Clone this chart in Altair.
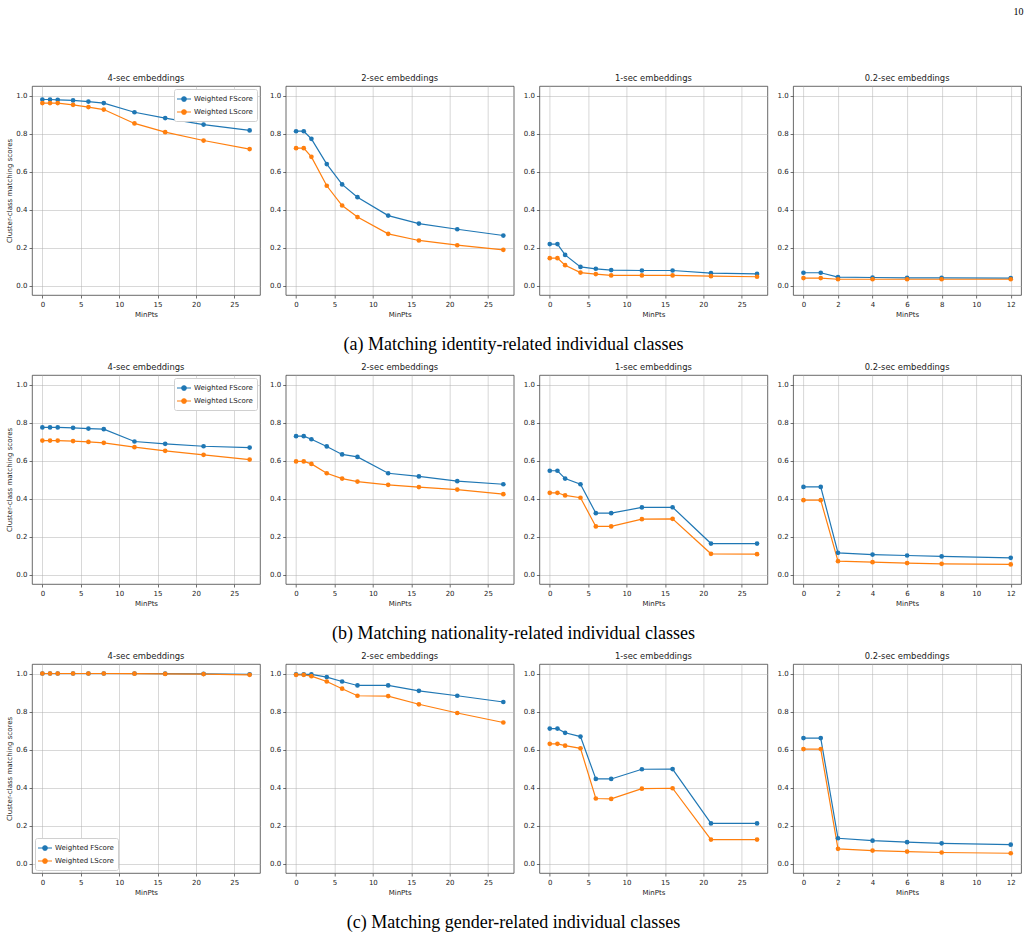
import altair as alt
import pandas as pd

X_LONG = [0, 1, 2, 4, 6, 8, 12, 16, 21, 27]
X_SHORT = [0, 1, 2, 4, 6, 8, 12]
TICKS_LONG = [0, 5, 10, 15, 20, 25]
TICKS_SHORT = [0, 2, 4, 6, 8, 10, 12]
Y_TICKS = [0.0, 0.2, 0.4, 0.6, 0.8, 1.0]
PANEL_TITLES = ["4-sec embeddings", "2-sec embeddings", "1-sec embeddings", "0.2-sec embeddings"]
SERIES = ["Weighted FScore", "Weighted LScore"]
COLORS = ["#1f77b4", "#ff7f0e"]
CAPTIONS = [
    "(a) Matching identity-related individual classes",
    "(b) Matching nationality-related individual classes",
    "(c) Matching gender-related individual classes",
]
PAGE_NUMBER = "10"

# Row (a): identity
A4F = [0.979, 0.979, 0.977, 0.974, 0.968, 0.960, 0.912, 0.881, 0.847, 0.816]
A4L = [0.960, 0.960, 0.960, 0.951, 0.939, 0.926, 0.853, 0.807, 0.763, 0.718]
A2F = [0.812, 0.812, 0.772, 0.639, 0.532, 0.465, 0.368, 0.326, 0.296, 0.263]
A2L = [0.723, 0.723, 0.677, 0.525, 0.421, 0.360, 0.272, 0.237, 0.212, 0.188]
A1F = [0.218, 0.218, 0.161, 0.098, 0.088, 0.081, 0.079, 0.079, 0.065, 0.061]
A1L = [0.144, 0.144, 0.107, 0.068, 0.060, 0.053, 0.053, 0.053, 0.049, 0.046]
A02F = [0.067, 0.067, 0.044, 0.042, 0.040, 0.040, 0.039]
A02L = [0.039, 0.039, 0.033, 0.033, 0.033, 0.033, 0.033]

# Row (b): nationality
B4F = [0.774, 0.774, 0.774, 0.772, 0.768, 0.765, 0.700, 0.688, 0.675, 0.668]
B4L = [0.705, 0.705, 0.705, 0.702, 0.698, 0.693, 0.670, 0.651, 0.630, 0.605]
B2F = [0.728, 0.728, 0.712, 0.674, 0.632, 0.619, 0.533, 0.516, 0.491, 0.475]
B2L = [0.595, 0.595, 0.582, 0.533, 0.505, 0.489, 0.472, 0.460, 0.447, 0.423]
B1F = [0.546, 0.546, 0.505, 0.475, 0.323, 0.323, 0.353, 0.354, 0.163, 0.163]
B1L = [0.430, 0.430, 0.416, 0.404, 0.253, 0.253, 0.291, 0.293, 0.109, 0.107]
B02F = [0.461, 0.461, 0.114, 0.105, 0.100, 0.095, 0.088]
B02L = [0.391, 0.391, 0.070, 0.065, 0.060, 0.056, 0.053]

# Row (c): gender
C4F = [1.000, 1.000, 1.000, 1.000, 1.000, 1.000, 1.000, 0.999, 0.998, 0.996]
C4L = [1.000, 1.000, 1.000, 1.000, 1.000, 1.000, 0.999, 0.998, 0.997, 0.993]
C2F = [0.995, 0.995, 0.995, 0.981, 0.958, 0.937, 0.937, 0.909, 0.883, 0.850]
C2L = [0.993, 0.993, 0.986, 0.958, 0.920, 0.883, 0.881, 0.838, 0.792, 0.742]
C1F = [0.710, 0.710, 0.688, 0.668, 0.445, 0.445, 0.496, 0.497, 0.211, 0.211]
C1L = [0.630, 0.630, 0.620, 0.606, 0.342, 0.340, 0.394, 0.396, 0.126, 0.126]
C02F = [0.660, 0.660, 0.133, 0.120, 0.112, 0.106, 0.099]
C02L = [0.602, 0.602, 0.077, 0.068, 0.063, 0.058, 0.054]

ROWS = [
    [(A4F, A4L), (A2F, A2L), (A1F, A1L), (A02F, A02L)],
    [(B4F, B4L), (B2F, B2L), (B1F, B1L), (B02F, B02L)],
    [(C4F, C4L), (C2F, C2L), (C1F, C1L), (C02F, C02L)],
]
LEGEND_ORIENT = ["top-right", "top-right", "bottom-left"]

SYMBOL = "M-1.4,0L1.4,0M-0.45,0A0.45,0.45,0,1,0,0.45,0A0.45,0.45,0,1,0,-0.45,0"

PANEL_W = 228
PANEL_H = 209
FONT = "DejaVu Sans"


def panel(r, c):
    f, l = ROWS[r][c]
    xs = X_SHORT if c == 3 else X_LONG
    df = pd.DataFrame({
        "minpts": list(xs) + list(xs),
        "score": list(f) + list(l),
        "series": [SERIES[0]] * len(xs) + [SERIES[1]] * len(xs),
    })
    xdom = [-0.6, 12.6] if c == 3 else [-1.35, 28.35]
    xticks = TICKS_SHORT if c == 3 else TICKS_LONG
    yaxis_kw = dict(values=Y_TICKS, format=".1f")
    if c == 0:
        yaxis_kw["title"] = "Cluster-class matching scores"
    else:
        yaxis_kw["title"] = ""
    if c == 0:
        legend = alt.Legend(
            title=None, orient=LEGEND_ORIENT[r], symbolType=SYMBOL, symbolSize=100,
            symbolStrokeWidth=1.2, labelFont=FONT, labelFontSize=7, labelColor="#222",
            fillColor="white", strokeColor="#d0d0d0", cornerRadius=2, padding=4,
            offset=3, rowPadding=2, labelOffset=4,
        )
    else:
        legend = None
    color = alt.Color("series:N", scale=alt.Scale(domain=SERIES, range=COLORS), legend=legend)
    base = alt.Chart(df).encode(
        x=alt.X("minpts:Q", scale=alt.Scale(domain=xdom, nice=False, zero=False),
                axis=alt.Axis(values=xticks, format="d", title="MinPts")),
        y=alt.Y("score:Q", scale=alt.Scale(domain=[-0.05, 1.05], nice=False, zero=False),
                axis=alt.Axis(**yaxis_kw)),
        color=color,
    )
    line = base.mark_line(strokeWidth=1.2)
    pts = base.mark_circle(size=22, opacity=1)
    return alt.layer(line, pts).properties(
        width=PANEL_W, height=PANEL_H,
        title=alt.TitleParams(PANEL_TITLES[c], font=FONT, fontSize=8.4, fontWeight="normal",
                              color="#222", offset=4),
    )


rows = []
for r in range(3):
    row = alt.hconcat(*[panel(r, c) for c in range(4)], spacing=25.7, bounds="flush").resolve_scale(
        color="independent").resolve_legend(color="independent").properties(
        title=alt.TitleParams(CAPTIONS[r], orient="bottom", anchor="middle", font="Liberation Serif",
                              fontSize=18, fontWeight="normal", color="black", offset=19, dx=0)
    )
    rows.append(row)

chart = alt.vconcat(*rows, spacing=289, bounds="flush").resolve_scale(
    color="independent").resolve_legend(color="independent").properties(
    title=alt.TitleParams(PAGE_NUMBER, anchor="end", orient="top", font="Liberation Serif",
                          fontSize=10, fontWeight="normal", color="black", offset=56, dx=2),
    padding={"left": 5, "top": 7, "right": 5, "bottom": 5},
    background="white",
).configure_axis(
    labelFont=FONT, labelFontSize=7, labelColor="#222", titleFont=FONT, titleFontSize=7,
    titleFontWeight="normal", titleColor="#222", gridColor="#b0b0b0", gridOpacity=0.7,
    gridWidth=0.7, tickColor="#333", tickSize=3, tickWidth=0.7, domain=False,
    labelPadding=2, titlePadding=3,
).configure_view(
    stroke="#444", strokeWidth=0.8,
)

chart.save("out.html", embed_options={"renderer": "svg", "actions": False})
